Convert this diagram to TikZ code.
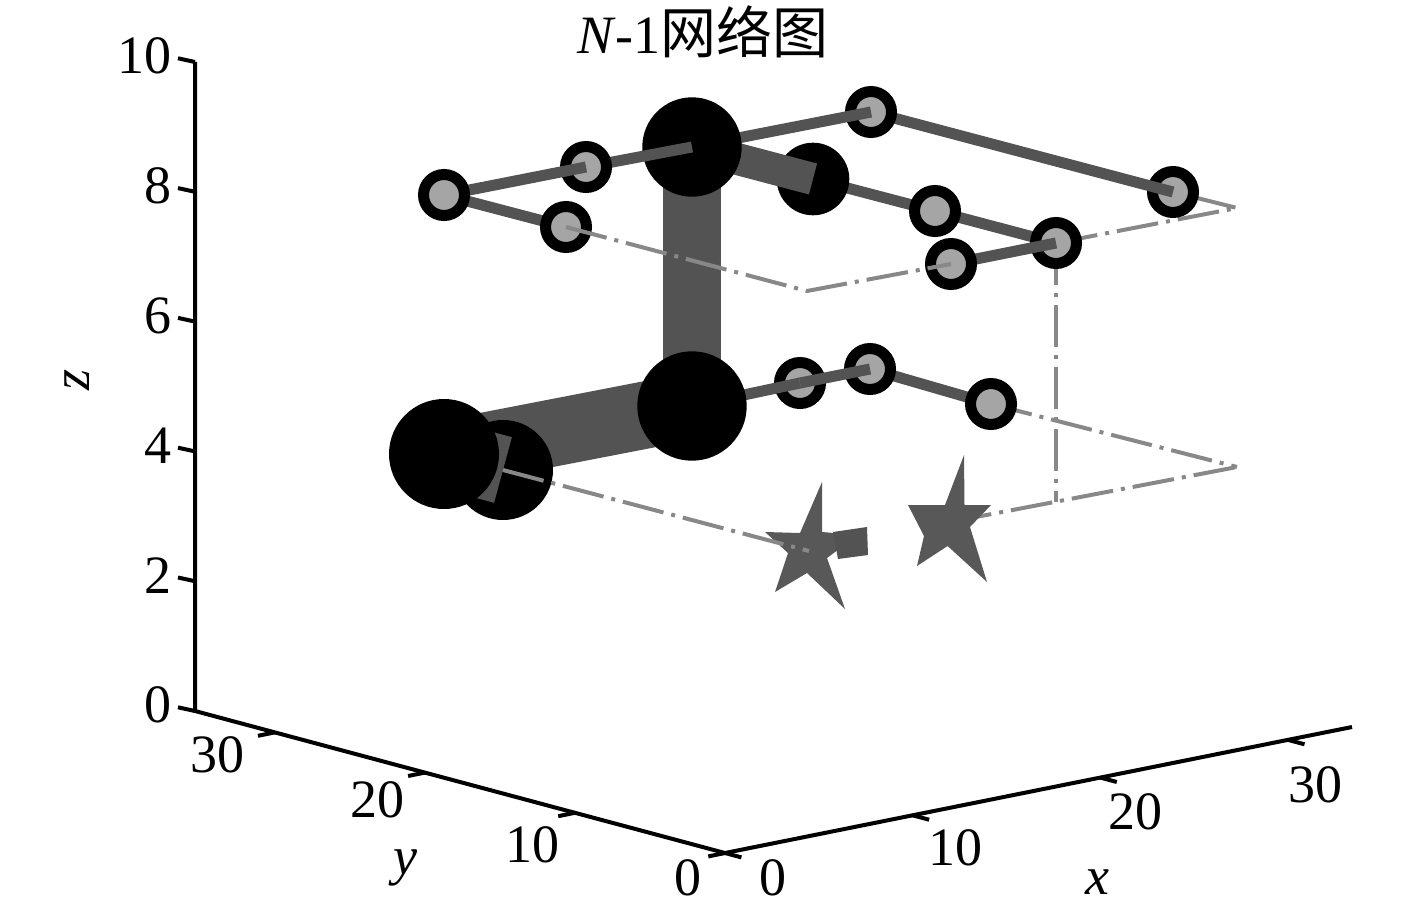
\documentclass[tikz,border=0pt]{standalone}
\usepackage{graphicx}
\usepackage{fontspec}
\setmainfont{Liberation Serif}
\newfontfamily\cjk{Noto Sans CJK SC}
\definecolor{barc}{RGB}{83,83,83}
\definecolor{ringin}{RGB}{165,165,165}
\definecolor{dashc}{RGB}{136,136,136}
\definecolor{starc}{RGB}{88,88,88}
\begin{document}
\begin{tikzpicture}[x=1pt,y=-1pt,
  axisline/.style={line width=4pt,black},
  lbl/.style={font=\fontsize{54}{60}\selectfont, inner sep=0pt},
  bar/.style={draw=barc,line width=11pt},
  thickbar/.style={draw=barc,line width=#1},
  ring/.style={circle,draw=black,line width=11pt,fill=ringin,minimum size=41pt,inner sep=0pt},
  blk/.style={circle,fill=black,minimum size=#1,inner sep=0pt},
  dashdot/.style={draw=dashc,line width=4pt,dash pattern=on 42pt off 8pt on 4pt off 8pt},
  starshape/.style={fill=starc}]
\useasboundingbox (0,0) rectangle (1417,907);
% ---------- positions ----------
\coordinate (U1) at (444,195);
\coordinate (U2) at (586,167);
\coordinate (U3) at (566,227);
\coordinate (U4) at (871,112);
\coordinate (U5) at (1173,192);
\coordinate (U6) at (935,211);
\coordinate (U7) at (1056,243);
\coordinate (U8) at (951,264);
\coordinate (BU) at (692,147);
\coordinate (BK) at (813,179);
\coordinate (A) at (692,406);
\coordinate (B) at (444,454);
\coordinate (C) at (503,470);
\coordinate (L1) at (800,383);
\coordinate (L2) at (870,369);
\coordinate (L3) at (991,404);
\coordinate (S1) at (809,551);
\coordinate (S2) at (950,522);
\coordinate (Q1) at (807,291);
\coordinate (Q2) at (1237,208);
\coordinate (Q3) at (1237,467);
\coordinate (Q4) at (1056,502);
\coordinate (O) at (725,853);
\coordinate (Zt) at (195,62);
\coordinate (Zb) at (195,711);
\coordinate (Xe) at (1352,727);
% ---------- axes ----------
\draw[axisline] (Zt) -- (Zb) -- (O) -- (Xe);
\foreach \z in {0,2,4,6,8,10}{
  \pgfmathsetmacro\yy{711-64.9*\z}
  \draw[axisline] (195,\yy) -- ++(-17,-3.7);
  \node[lbl,anchor=east] (zl\z) at (172,{\yy-6}) {\z};
}
\foreach \t in {0,1,2,3}{
  \draw[axisline] ({725-150.1*\t},{853-40.2*\t}) -- ++(-16.7,3.4);
  \draw[axisline] ({725+187.7*\t},{853-37.7*\t}) -- ++(16.4,4.4);
}
\node[lbl] (yl30) at (217,755) {30};
\node[lbl] (yl20) at (377,800) {20};
\node[lbl] (yl10) at (532,845) {10};
\node[lbl] (yl0) at (688,878) {0};
\node[lbl] (xl0) at (773,878) {0};
\node[lbl] (xl10) at (955,848) {10};
\node[lbl] (xl20) at (1135,812) {20};
\node[lbl] (xl30) at (1315,785) {30};
\node[lbl,font=\fontsize{54}{60}\selectfont\itshape] (ylab) at (405,868) {y};
\node[lbl,font=\fontsize{54}{60}\selectfont\itshape] (xlab) at (1097,882) {x};
\node[lbl,font=\fontsize{54}{60}\selectfont\itshape] (zlab) at (77,380) {\rotatebox{90}{z}};
\node[lbl] (title) at (703,32) {\textit{N}-1{\cjk\fontsize{56}{62}\selectfont 网络图}};
% ---------- dash-dot lines behind nodes ----------
\draw[dashdot] (U7) -- (Q2) -- (U5);
\draw[dashdot] (L3) -- (Q3);
\draw[dashdot] (S2) -- (Q3);
\draw[dashdot] (U7) -- (Q4);
% ---------- upper layer ----------
\node[ring] (nU5) at (U5) {};
\draw[bar] (U4) -- (U5);
\node[ring] (nU4) at (U4) {};
\draw[bar] (BU) -- (U4);
\draw[thickbar=58pt] (BU) -- (A);
\draw[bar] (BK) -- (U6);
\draw[bar] (U6) -- (U7);
\node[ring] (nU6) at (U6) {};
\node[ring] (nU7) at (U7) {};
\draw[bar] (U8) -- (U7);
\node[ring] (nU8) at (U8) {};
\node[blk=72.6pt] (nBK) at (BK) {};
\draw[thickbar=32pt] (BU) -- (BK);
\node[blk=99.4pt] (nBU) at (BU) {};
\draw[bar] (U2) -- (BU);
\node[ring] (nU2) at (U2) {};
\draw[bar] (U1) -- (U2);
\draw[bar] (U1) -- (U3);
\node[ring] (nU3) at (U3) {};
\node[ring] (nU1) at (U1) {};
\draw[dashdot] (U3) -- (Q1) -- (U8);
% ---------- lower layer ----------
\draw[bar] (L2) -- (L3);
\node[ring] (nL3) at (L3) {};
\node[ring] (nL1) at (L1) {};
\node[ring] (nL2) at (L2) {};
\draw[bar] (L1) -- (L2);
\draw[bar] (A) -- (L1);
\draw[thickbar=67pt] (B) -- (A);
\node[blk=109.4pt] (nA) at (A) {};
\node[blk=100pt] (nC) at (C) {};
\draw[thickbar=68pt] (B) -- (C);
\node[blk=110pt] (nB) at (B) {};
% ---------- stars ----------
\fill[starshape] (822,482) -- (822,532) -- (858,535) -- (827,558) -- (845,609)
  -- (807,573) -- (775,592) -- (788,553) -- (765,532) -- (800,533) -- cycle;
\fill[starshape] (964,455) -- (964.5,505) -- (991,505) -- (970,527) -- (987,582)
  -- (947.6,546) -- (917,566) -- (924,536) -- (908,505) -- (945,505) -- cycle;
\fill[barc] (833,532) -- (867,527) -- (868,555) -- (838,559) -- cycle;
\draw[dashdot] (C) -- (S1);
\end{tikzpicture}
\end{document}
